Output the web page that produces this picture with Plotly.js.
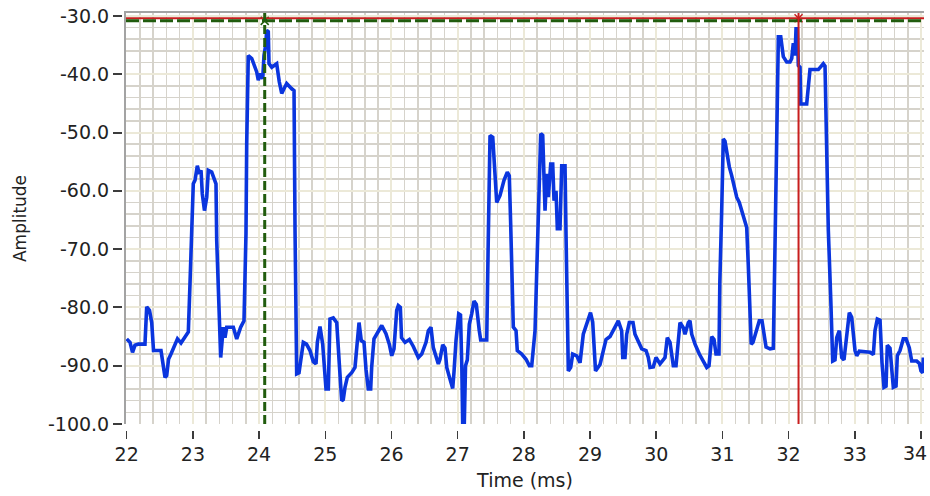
<!DOCTYPE html>
<html>
<head>
<meta charset="utf-8">
<script src="https://cdn.plot.ly/plotly-3.0.1.min.js"></script>
<style>
html,body{margin:0;padding:0;background:#ffffff;}
#chart{width:930px;height:496px;}
</style>
</head>
<body>
<div id="chart"></div>
<script>
// ---- data ----
const timeMs = [
22.000,22.050,22.088,22.125,22.178,22.276,22.302,22.344,22.378,22.405,22.518,22.579,22.604,22.632,22.669,22.707,22.767,22.820,22.881,22.931,
22.956,22.982,23.006,23.032,23.067,23.097,23.123,23.142,23.175,23.209,23.233,23.284,23.319,23.349,23.360,23.394,23.420,23.459,23.485,23.511,
23.611,23.662,23.722,23.772,23.802,23.813,23.837,23.889,23.923,23.964,23.988,24.024,24.055,24.074,24.100,24.115,24.139,24.150,24.191,24.266,
24.305,24.342,24.376,24.417,24.493,24.528,24.543,24.568,24.603,24.626,24.668,24.716,24.769,24.819,24.860,24.880,24.920,24.961,24.981,25.011,
25.046,25.071,25.121,25.173,25.212,25.248,25.272,25.298,25.333,25.399,25.449,25.484,25.510,25.544,25.585,25.615,25.650,25.686,25.701,25.736,
25.801,25.853,25.917,25.967,26.004,26.038,26.079,26.103,26.134,26.152,26.205,26.270,26.330,26.406,26.457,26.522,26.557,26.597,26.632,26.673,
26.708,26.733,26.774,26.809,26.835,26.884,26.925,26.945,26.975,27.016,27.043,27.063,27.076,27.100,27.119,27.146,27.176,27.212,27.247,27.282,
27.300,27.327,27.348,27.439,27.463,27.489,27.530,27.549,27.564,27.590,27.640,27.666,27.700,27.750,27.780,27.801,27.816,27.841,27.882,27.901,
27.968,28.033,28.083,28.119,28.169,28.194,28.218,28.255,28.285,28.320,28.345,28.370,28.406,28.436,28.456,28.486,28.506,28.546,28.572,28.622,
28.637,28.657,28.672,28.708,28.738,28.799,28.849,28.898,28.950,29.007,29.040,29.060,29.083,29.151,29.241,29.302,29.377,29.427,29.478,29.494,
29.528,29.554,29.593,29.649,29.679,29.729,29.781,29.846,29.880,29.906,29.956,29.997,30.057,30.133,30.167,30.208,30.258,30.299,30.334,30.359,
30.409,30.435,30.485,30.510,30.536,30.586,30.651,30.711,30.763,30.797,30.838,30.873,30.903,30.948,30.961,30.989,31.013,31.039,31.065,31.104,
31.140,31.164,31.216,31.255,31.291,31.326,31.367,31.391,31.417,31.435,31.462,31.508,31.557,31.598,31.628,31.659,31.719,31.769,31.795,31.820,
31.845,31.881,31.896,31.920,31.971,32.021,32.047,32.071,32.097,32.112,32.132,32.147,32.172,32.183,32.273,32.298,32.323,32.449,32.524,32.550,
32.565,32.585,32.600,32.636,32.666,32.701,32.727,32.766,32.802,32.837,32.878,32.917,32.953,32.978,33.003,33.029,33.068,33.230,33.280,33.305,
33.340,33.381,33.392,33.411,33.441,33.472,33.491,33.532,33.558,33.582,33.623,33.642,33.683,33.733,33.774,33.823,33.860,33.935,33.975,34.000,
34.026,34.035
];
const amplitude = [
-85.4,-86.0,-87.7,-86.5,-86.3,-86.3,-79.9,-80.5,-82.6,-87.4,-87.4,-92.0,-91.7,-88.9,-88.0,-87.1,-85.4,-86.1,-85.0,-84.2,
-76.0,-67.4,-58.8,-58.2,-55.7,-57.1,-56.5,-60.5,-63.4,-61.1,-56.5,-56.8,-57.7,-58.8,-68.5,-78.6,-88.6,-83.4,-85.2,-83.4,
-83.4,-85.4,-83.4,-82.3,-67.4,-51.9,-36.8,-37.3,-38.2,-39.6,-41.0,-39.9,-40.8,-36.8,-35.0,-32.5,-32.7,-38.2,-38.8,-38.2,
-41.3,-43.3,-42.5,-41.6,-42.5,-42.8,-66.8,-91.4,-91.2,-89.2,-86.0,-86.3,-87.4,-89.3,-89.7,-86.0,-83.3,-86.3,-90.3,-94.0,
-94.0,-82.0,-81.8,-82.6,-89.7,-96.0,-95.8,-93.7,-92.0,-91.2,-90.3,-86.3,-82.6,-85.7,-86.0,-90.6,-94.0,-94.0,-90.3,-85.4,
-84.2,-83.1,-84.5,-86.3,-88.3,-87.1,-80.5,-79.7,-80.0,-85.2,-86.0,-85.5,-86.7,-88.6,-88.0,-86.0,-84.0,-83.4,-86.9,-88.5,
-89.7,-88.9,-86.4,-87.0,-90.3,-92.3,-93.9,-91.0,-85.7,-81.1,-81.3,-90.3,-100.0,-100.0,-90.0,-89.0,-82.9,-81.1,-78.9,-79.5,
-81.7,-84.0,-85.6,-85.6,-68.0,-50.5,-50.8,-54.5,-58.2,-62.0,-60.8,-59.7,-58.2,-56.8,-57.4,-65.7,-74.3,-83.4,-84.0,-87.4,
-88.0,-88.9,-90.0,-90.0,-84.0,-72.5,-61.7,-50.2,-50.5,-63.4,-57.1,-61.1,-55.4,-55.4,-61.7,-60.0,-66.5,-66.5,-55.7,-55.7,
-67.4,-78.9,-90.9,-90.3,-88.0,-88.3,-89.5,-84.6,-83.0,-80.9,-82.5,-85.7,-90.9,-89.8,-85.5,-85.0,-83.4,-82.3,-84.0,-88.6,
-88.6,-84.6,-82.6,-82.6,-84.6,-85.7,-87.1,-87.4,-88.6,-90.3,-90.2,-88.6,-89.7,-88.6,-85.2,-86.0,-90.0,-90.0,-85.7,-82.6,
-83.5,-84.6,-82.6,-82.3,-84.6,-86.3,-88.0,-89.2,-90.3,-90.0,-85.0,-85.5,-88.0,-88.0,-75.6,-63.4,-51.1,-51.5,-53.6,-55.9,
-57.4,-58.8,-61.1,-62.0,-63.4,-64.8,-66.3,-72.8,-79.4,-86.3,-86.0,-84.0,-82.3,-82.3,-84.3,-86.8,-87.1,-87.0,-69.1,-51.4,
-33.6,-33.6,-35.6,-37.0,-37.9,-37.9,-37.3,-34.7,-36.8,-32.2,-32.2,-38.5,-38.8,-45.1,-45.1,-42.2,-39.2,-39.2,-38.2,-38.6,
-47.4,-55.9,-66.8,-78.3,-89.2,-89.0,-85.2,-84.0,-88.6,-89.0,-84.0,-80.9,-81.7,-85.2,-87.4,-88.3,-87.5,-87.7,-88.1,-84.0,
-82.0,-82.2,-86.3,-89.5,-93.7,-93.5,-86.5,-87.0,-90.6,-93.7,-93.5,-88.3,-87.4,-85.4,-85.4,-86.9,-89.2,-89.2,-89.6,-90.9,
-91.2,-88.6
];
const xTickVals = [22,23,24,25,26,27,28,29,30,31,32,33,34];
const xTickText = ["22","23","24","25","26","27","28","29","30","31","32","33","34"];
const yTickVals = [-100,-90,-80,-70,-60,-50,-40,-30];
const yTickText = ["-100.0","-90.0","-80.0","-70.0","-60.0","-50.0","-40.0","-30.0"];
const cursorGreen = {x: 24.085, y: -30.85};
const cursorRed = {x: 32.15, y: -30.4};

// ---- geometry / styles ----
const W = 930, H = 496, L = 100, R = 6, T = 13, B = 40;
const pw = W - L - R, ph = H - T - B;
const plotLeft = 126, plotBottom = 424, yTickAxisX = 122, xTickAxisY = 429.5, xLabelMidY = 453;
const xDom = [(plotLeft - L) / pw, 1];
const yDom = [(H - B - plotBottom) / ph, 1];
const xRange = [21.9894, 34.0454];
const yRange = [-100, -29.5];
const FONT = "DejaVu Sans";
const GREEN = "#215c0e", RED = "#c81e1e", BLUE = "#0a35de";
const MAJ = "#ECE9D8", MIN = "#D6D3CB", BORDER = "#a3a3a3";

// last x label sits at the right edge: drawn as an annotation nudged inward so it is not clipped
const nLast = xTickVals.length - 1;
const axisTickText = xTickText.map((t, i) => i === nLast ? "" : t);

const traces = [
  {x: timeMs, y: amplitude, type: "scatter", mode: "lines",
   line: {color: BLUE, width: 3.6}, xaxis: "x", yaxis: "y", hoverinfo: "skip"},
  {x: [cursorGreen.x, cursorRed.x], y: [cursorGreen.y, cursorRed.y], type: "scatter", mode: "markers",
   xaxis: "x2", yaxis: "y2", hoverinfo: "skip",
   marker: {symbol: "x-thin-open", size: 8, color: [GREEN, RED], line: {color: [GREEN, RED], width: 1.5}}}
];

const layout = {
  width: W, height: H,
  margin: {l: L, r: R, t: T, b: B, pad: 0},
  paper_bgcolor: "#ffffff", plot_bgcolor: "#ffffff",
  showlegend: false,
  font: {family: FONT, color: "#222222"},
  xaxis: {domain: xDom, range: xRange, side: "top", showline: true, linecolor: BORDER, linewidth: 2,
          ticks: "", showticklabels: false, tickmode: "linear", tick0: 22, dtick: 1,
          showgrid: true, gridcolor: MAJ, gridwidth: 2, zeroline: false, fixedrange: true,
          minor: {dtick: 0.2, tick0: 22, showgrid: true, gridcolor: MIN, gridwidth: 1.5}},
  yaxis: {domain: yDom, range: yRange, showline: true, linecolor: BORDER, linewidth: 2,
          ticks: "", showticklabels: false, tickmode: "linear", tick0: -100, dtick: 10,
          showgrid: true, gridcolor: MAJ, gridwidth: 2, zeroline: false, fixedrange: true,
          minor: {dtick: 2, tick0: -100, showgrid: true, gridcolor: MIN, gridwidth: 1.5}},
  xaxis2: {overlaying: "x", anchor: "free", position: (H - B - xTickAxisY) / ph, range: xRange, side: "bottom",
           showgrid: false, zeroline: false, showline: false, ticks: "outside", ticklen: 8, tickwidth: 1.5,
           tickcolor: "#3c3c3c", tickmode: "array", tickvals: xTickVals, ticktext: axisTickText,
           tickfont: {family: FONT, size: 19, color: "#222222"}, fixedrange: true,
           title: {text: "Time (ms)", font: {family: FONT, size: 19, color: "#222222"}, standoff: 9}},
  yaxis2: {overlaying: "y", anchor: "free", position: (yTickAxisX - L) / pw, range: yRange, side: "left",
           showgrid: false, zeroline: false, showline: false, ticks: "outside", ticklen: 9, tickwidth: 2,
           tickcolor: "#3c3c3c", tickmode: "array", tickvals: yTickVals, ticktext: yTickText,
           tickfont: {family: FONT, size: 19, color: "#222222"}, fixedrange: true,
           title: {text: "Amplitude", font: {family: FONT, size: 17, color: "#222222"}, standoff: 16}},
  annotations: [
    {xref: "x", yref: "paper", x: xTickVals[nLast], y: (H - B - xLabelMidY) / ph,
     text: xTickText[nLast], showarrow: false, xanchor: "right", yanchor: "middle", xshift: 8,
     font: {family: FONT, size: 19, color: "#222222"}}
  ],
  shapes: [
    {type: "line", xref: "x domain", yref: "y", x0: 0, x1: 1, y0: cursorRed.y, y1: cursorRed.y,
     line: {color: RED, width: 2}},
    {type: "line", xref: "x domain", yref: "y", x0: 0, x1: 1, y0: cursorGreen.y, y1: cursorGreen.y,
     line: {color: GREEN, width: 3, dash: "13px,4px"}},
    {type: "line", xref: "x", yref: "y domain", x0: cursorGreen.x, x1: cursorGreen.x, y0: 0, y1: 1,
     line: {color: GREEN, width: 3, dash: "9px,4px"}},
    {type: "line", xref: "x", yref: "y domain", x0: cursorRed.x, x1: cursorRed.x, y0: 0, y1: 1,
     line: {color: RED, width: 2}}
  ]
};

Plotly.newPlot("chart", traces, layout, {displayModeBar: false, staticPlot: true});
</script>
</body>
</html>
